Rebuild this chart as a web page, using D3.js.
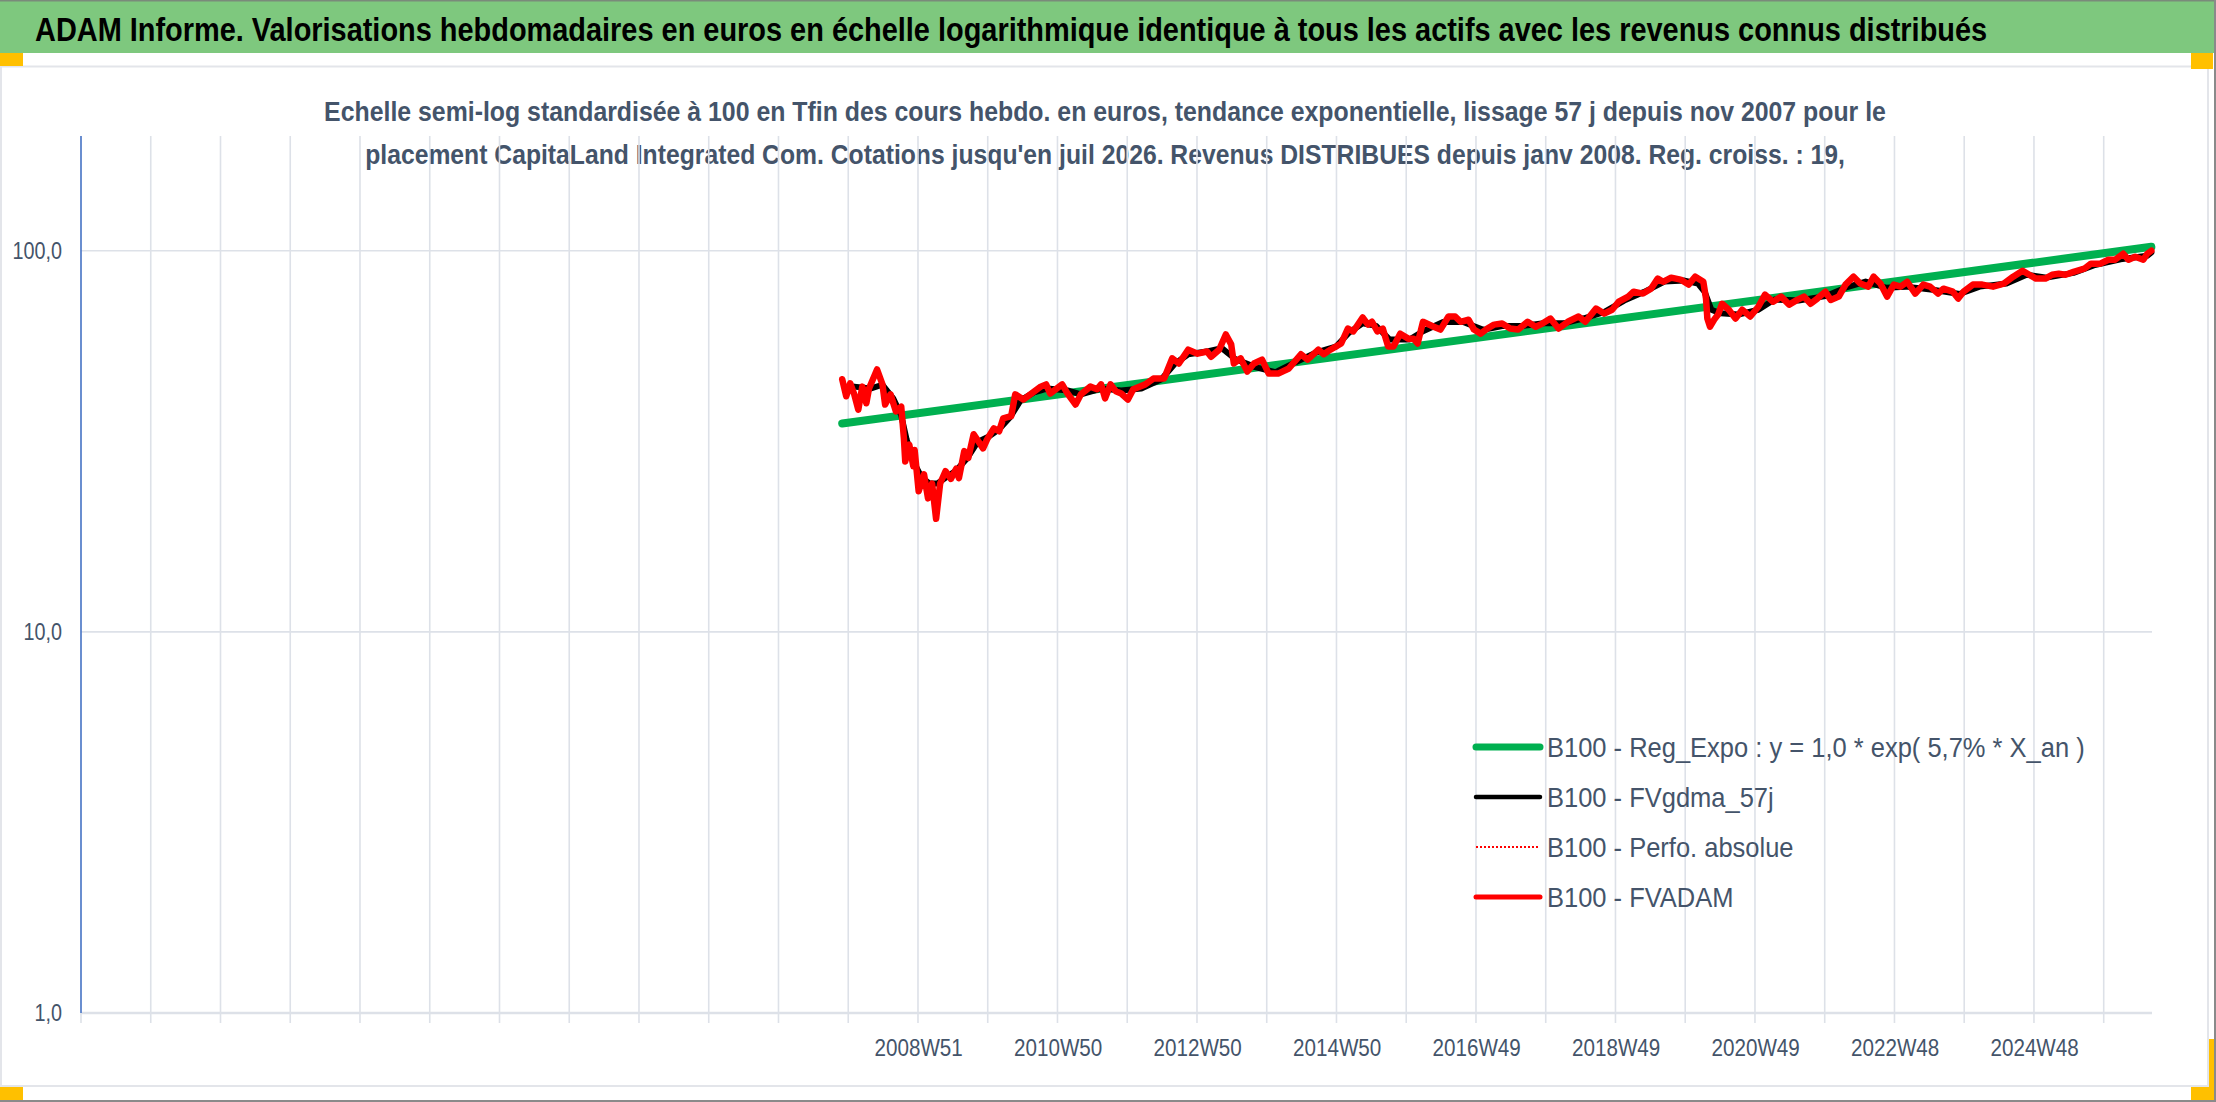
<!DOCTYPE html>
<html>
<head>
<meta charset="utf-8">
<script src="https://cdn.jsdelivr.net/npm/d3@7"></script>
<style>
  body { margin: 0; background: #fff; }
  svg { display: block; }
</style>
</head>
<body>
<div id="chart"></div>
<script>
  // Constants
  const WIDTH = 2216;
  const HEIGHT = 1102;
  const FONT = '"Liberation Sans Narrow", "Liberation Sans", Arial, sans-serif';

  // Texts
  const title =
    'ADAM Informe. Valorisations hebdomadaires en euros en échelle logarithmique identique à tous les actifs avec les revenus connus distribués';
  const subtitle = [
    'Echelle semi-log standardisée à 100 en Tfin des cours hebdo. en euros, tendance exponentielle, lissage 57 j depuis nov 2007 pour le',
    "placement CapitaLand Integrated Com. Cotations jusqu'en juil 2026. Revenus DISTRIBUES depuis janv 2008. Reg. croiss. : 19,",
  ];

  // Category axis: weekly categories, tick every 52 weeks, label every 104
  const nWeeks = 1544;
  const tickStep = 52;
  const labelWeeks = [624, 728, 832, 936, 1040, 1144, 1248, 1352, 1456];
  const labelTexts = ['2008W51', '2010W50', '2012W50', '2014W50', '2016W49', '2018W49', '2020W49', '2022W48', '2024W48'];

  // Value axis (log)
  const yDomain = [1, 200];
  const yTicks = [1, 10, 100];

  // Series: [week index, value]
  const regExpo = [[567, 35.2], [1543, 102.4]];

  const fvgdma57 = [
    [576, 44.0], [588, 43.5], [597, 44.5], [605, 41], [611, 37], [615, 32], [620, 28], [626, 25.5],
    [632, 24.5], [638, 24.5], [645, 25.5], [652, 26.5], [660, 28.5], [668, 31.5], [676, 32.5], [684, 34],
    [692, 36.5], [700, 40.5], [710, 42.5], [720, 43.5], [735, 43], [745, 42], [760, 43.5], [775, 43],
    [790, 43.5], [805, 46], [815, 50.5], [825, 53.5], [840, 54.5], [850, 55.5], [860, 52], [875, 49.5],
    [890, 48], [905, 51], [920, 54], [935, 56], [945, 61], [955, 64.5], [965, 63.5], [975, 58.5],
    [990, 58.5], [1000, 61.5], [1015, 65], [1030, 65], [1045, 62], [1060, 63.5], [1075, 63.5], [1090, 64.5],
    [1105, 64.5], [1120, 66.5], [1135, 69], [1150, 74], [1165, 78], [1180, 83], [1195, 83.5], [1205, 82],
    [1210, 78], [1215, 70], [1222, 68.5], [1235, 68], [1250, 70], [1262, 74.5], [1280, 74], [1300, 76],
    [1315, 80], [1330, 83], [1345, 80], [1360, 80.5], [1380, 79], [1400, 77], [1415, 80.5], [1435, 82],
    [1450, 86.5], [1465, 85], [1485, 87.5], [1500, 91.5], [1520, 95], [1540, 97], [1543, 99],
  ];

  const fvadam = [
    [567, 46.0], [570, 41.5], [573, 44.9], [576, 42.0], [579, 38.3], [582, 44.0], [585, 39.8], [587, 43.5],
    [593, 48.8], [597, 44.6], [599, 39.5], [603, 42.0], [607, 37.9], [611, 39.0], [613, 32.2], [614, 28.0],
    [617, 31.0], [620, 27.2], [621, 30.0], [624, 23.4], [628, 25.9], [631, 22.4], [634, 24.5], [637, 19.8],
    [640, 24.5], [644, 26.4], [648, 25.2], [652, 26.8], [654, 25.3], [658, 29.8], [661, 28.6], [665, 33.0],
    [672, 30.3], [675, 32.0], [680, 34.2], [684, 33.6], [687, 36.3], [693, 36.8], [696, 42.0], [702, 40.7],
    [708, 42.2], [715, 44.0], [719, 44.6], [722, 42.2], [731, 44.6], [735, 42.2], [741, 39.5], [745, 42.0],
    [752, 44.0], [757, 43.3], [760, 44.6], [763, 41.0], [767, 44.6], [771, 42.8], [775, 42.2], [780, 40.7],
    [784, 43.3], [793, 44.6], [799, 46.2], [807, 46.2], [813, 52.2], [818, 50.6], [825, 55.0], [832, 53.7],
    [839, 54.4], [842, 52.7], [848, 55.0], [853, 60.3], [857, 56.8], [859, 50.6], [864, 52.2], [869, 48.2],
    [874, 50.6], [880, 51.8], [885, 47.6], [892, 47.6], [900, 49.1], [909, 53.5], [914, 51.8], [922, 55.0],
    [926, 53.5], [931, 55.0], [939, 57.1], [944, 62.5], [948, 61.4], [955, 66.8], [959, 64.0], [962, 65.1],
    [966, 61.4], [970, 62.5], [974, 56.1], [978, 56.1], [983, 60.6], [989, 58.8], [993, 58.8], [996, 57.1],
    [1000, 65.1], [1008, 63.2], [1013, 62.1], [1019, 67.2], [1024, 67.2], [1028, 65.1], [1034, 65.9], [1038, 62.1],
    [1043, 60.6], [1048, 62.5], [1053, 64.0], [1059, 64.4], [1065, 62.5], [1071, 62.1], [1078, 65.1], [1084, 63.2],
    [1089, 64.4], [1095, 66.4], [1101, 62.5], [1108, 65.1], [1116, 67.2], [1121, 65.1], [1129, 70.5], [1135, 68.4],
    [1141, 70.0], [1146, 73.5], [1153, 75.8], [1157, 78.1], [1164, 77.2], [1170, 79.5], [1175, 84.5], [1179, 82.9],
    [1185, 85.0], [1192, 84.0], [1198, 81.5], [1203, 85.5], [1209, 82.9], [1211, 74.9], [1212, 66.4], [1214, 63.2],
    [1217, 65.9], [1220, 68.0], [1223, 72.6], [1228, 70.0], [1233, 66.4], [1238, 70.0], [1244, 67.2], [1250, 71.3],
    [1255, 76.7], [1261, 73.5], [1267, 75.8], [1273, 72.2], [1279, 74.3], [1284, 75.8], [1289, 72.6], [1294, 74.9],
    [1300, 78.1], [1304, 74.3], [1310, 75.8], [1315, 81.5], [1321, 85.5], [1326, 82.0], [1332, 80.5], [1336, 85.5],
    [1341, 82.0], [1346, 75.8], [1351, 81.5], [1356, 80.5], [1361, 82.9], [1367, 77.2], [1373, 81.5], [1378, 80.5],
    [1384, 77.2], [1388, 79.5], [1395, 78.1], [1399, 74.9], [1403, 78.1], [1410, 81.5], [1417, 81.5], [1425, 80.5],
    [1433, 82.0], [1440, 85.5], [1447, 88.6], [1452, 86.5], [1457, 84.5], [1464, 84.5], [1469, 86.5], [1474, 87.0],
    [1479, 86.5], [1485, 88.0], [1493, 89.7], [1498, 92.5], [1505, 92.5], [1511, 94.7], [1516, 94.7], [1522, 98.2],
    [1526, 94.7], [1531, 96.4], [1537, 94.7], [1540, 98.2], [1543, 100.0],
  ];

  const seriesNames = [
    'B100 - Reg_Expo : y = 1,0 * exp( 5,7% *  X_an )',
    'B100 - FVgdma_57j',
    'B100 - Perfo. absolue',
    'B100 - FVADAM',
  ];

  // Styles
  const series = [
    { name: seriesNames[0], data: regExpo, color: '#00b050', width: 8, legendWidth: 7, dash: null },
    { name: seriesNames[1], data: fvgdma57, color: '#000000', width: 6, legendWidth: 4.5, dash: null },
    { name: seriesNames[2], data: fvadam, color: '#ff0000', width: 2, legendWidth: 2, dash: '2,2' },
    { name: seriesNames[3], data: fvadam, color: '#ff0000', width: 6.5, legendWidth: 5, dash: null },
  ];

  const margin = { top: 136, right: WIDTH - 2152, bottom: HEIGHT - 1013, left: 81 };
  const textColor = '#44546a';
  const gridColor = '#dde1e8';

  const svg = d3
    .select('#chart')
    .append('svg')
    .attr('width', WIDTH)
    .attr('height', HEIGHT)
    .attr('viewBox', `0 0 ${WIDTH} ${HEIGHT}`)
    .style('font-family', FONT);

  // squeeze texts horizontally around their anchor (source uses a narrow font)
  function squeeze(sel, xFn, yFn, k) {
    sel.each(function (d, i) {
      const kk = typeof k === 'function' ? k.call(this, d, i) : k;
      d3.select(this)
        .attr('x', 0)
        .attr('y', 0)
        .attr('transform', `translate(${xFn(d, i)},${yFn(d, i)}) scale(${kk},1)`);
    });
  }

  // Frame
  svg.append('rect').attr('width', WIDTH).attr('height', HEIGHT).attr('fill', '#fff');
  svg.append('rect').attr('x', 0).attr('y', 0).attr('width', WIDTH).attr('height', 53).attr('fill', '#7ec87e');
  svg.append('rect').attr('x', 0).attr('y', 0).attr('width', WIDTH).attr('height', 1.5).attr('fill', '#7a8a7a');
  svg
    .append('rect')
    .attr('x', 1)
    .attr('y', 66.5)
    .attr('width', 2207)
    .attr('height', 1019.5)
    .attr('fill', '#fff')
    .attr('stroke', '#e3e5ea')
    .attr('stroke-width', 2);
  const gold = '#ffc000';
  svg.append('rect').attr('x', 0).attr('y', 53).attr('width', 23).attr('height', 13).attr('fill', gold);
  svg.append('rect').attr('x', 2191).attr('y', 53).attr('width', 22).attr('height', 16).attr('fill', gold);
  svg.append('rect').attr('x', 0).attr('y', 1087).attr('width', 23).attr('height', 13).attr('fill', gold);
  svg.append('rect').attr('x', 2191).attr('y', 1087).attr('width', 22).attr('height', 13).attr('fill', gold);
  svg.append('rect').attr('x', 2209).attr('y', 1039).attr('width', 5).attr('height', 61).attr('fill', gold);
  svg.append('rect').attr('x', 2214).attr('y', 0).attr('width', 2).attr('height', HEIGHT).attr('fill', '#8a8a8a');
  svg.append('rect').attr('x', 0).attr('y', 1100).attr('width', WIDTH).attr('height', 2).attr('fill', '#8a8a8a');

  // Title
  const titleText = svg
    .append('text')
    .attr('font-size', 33)
    .attr('font-weight', 'bold')
    .attr('fill', '#000')
    .text(title);
  const kTitle = 1953 / titleText.node().getComputedTextLength();
  squeeze(titleText, () => 35, () => 41, kTitle);

  const subWidths = [1562, 1480];
  const subTexts = svg
    .append('g')
    .selectAll('text')
    .data(subtitle)
    .join('text')
    .attr('text-anchor', 'middle')
    .attr('font-size', 28)
    .attr('font-weight', 'bold')
    .attr('fill', textColor)
    .text((d) => d);
  squeeze(
    subTexts,
    () => 1105,
    (d, i) => 121 + i * 43,
    function (d, i) {
      return subWidths[i] / this.getComputedTextLength();
    }
  );

  // Scales
  const x = d3.scaleLinear().domain([0, nWeeks]).range([margin.left, WIDTH - margin.right]);
  const y = d3.scaleLog().domain(yDomain).range([HEIGHT - margin.bottom, margin.top]);

  // Grid
  const tickWeeks = d3.range(tickStep, nWeeks, tickStep);
  svg
    .append('g')
    .selectAll('line')
    .data(tickWeeks)
    .join('line')
    .attr('x1', (d) => x(d))
    .attr('x2', (d) => x(d))
    .attr('y1', margin.top)
    .attr('y2', HEIGHT - margin.bottom + 10)
    .attr('stroke', gridColor)
    .attr('stroke-width', 1.6);
  svg
    .append('line')
    .attr('x1', x(0))
    .attr('x2', x(0))
    .attr('y1', HEIGHT - margin.bottom)
    .attr('y2', HEIGHT - margin.bottom + 10)
    .attr('stroke', gridColor)
    .attr('stroke-width', 1.6);
  svg
    .append('g')
    .selectAll('line')
    .data(yTicks)
    .join('line')
    .attr('x1', x(0))
    .attr('x2', x(nWeeks))
    .attr('y1', (d) => y(d))
    .attr('y2', (d) => y(d))
    .attr('stroke', gridColor)
    .attr('stroke-width', (d) => (d === 1 ? 2.4 : 1.6));

  // Y axis
  svg
    .append('line')
    .attr('x1', x(0))
    .attr('x2', x(0))
    .attr('y1', margin.top)
    .attr('y2', HEIGHT - margin.bottom)
    .attr('stroke', '#4472c4')
    .attr('stroke-width', 1.6);

  const kLabel = 0.86;
  const yLabels = svg
    .append('g')
    .selectAll('text')
    .data(yTicks)
    .join('text')
    .attr('dy', '0.36em')
    .attr('text-anchor', 'end')
    .attr('font-size', 23)
    .attr('fill', textColor)
    .text((d) => d3.format('.1f')(d).replace('.', ','));
  squeeze(yLabels, () => 62, (d) => y(d), kLabel);

  // X labels
  const xLabels = svg
    .append('g')
    .selectAll('text')
    .data(labelWeeks)
    .join('text')
    .attr('text-anchor', 'middle')
    .attr('font-size', 24)
    .attr('fill', textColor)
    .text((d, i) => labelTexts[i]);
  squeeze(xLabels, (d) => x(d + 0.5), () => 1056, kLabel);

  // Lines
  const line = d3
    .line()
    .x((d) => x(d[0] + 0.5))
    .y((d) => y(d[1]));

  svg
    .append('g')
    .selectAll('path')
    .data(series)
    .join('path')
    .attr('d', (d) => line(d.data))
    .attr('fill', 'none')
    .attr('stroke', (d) => d.color)
    .attr('stroke-width', (d) => d.width)
    .attr('stroke-dasharray', (d) => d.dash)
    .attr('stroke-linejoin', 'round')
    .attr('stroke-linecap', 'round');

  // Legend
  const legend = svg
    .append('g')
    .selectAll('g')
    .data(series)
    .join('g')
    .attr('transform', (d, i) => `translate(1476, ${747 + i * 50})`);
  legend
    .append('line')
    .attr('x1', 0)
    .attr('x2', 64)
    .attr('stroke', (d) => d.color)
    .attr('stroke-width', (d) => d.legendWidth)
    .attr('stroke-dasharray', (d) => d.dash)
    .attr('stroke-linecap', (d) => (d.dash ? 'butt' : 'round'));
  const legendTexts = legend
    .append('text')
    .attr('dy', '0.36em')
    .attr('font-size', 28)
    .attr('fill', textColor)
    .text((d) => d.name);
  const kLegend = 538 / legendTexts.node().getComputedTextLength();
  squeeze(legendTexts, () => 71, () => 0, kLegend);
</script>
</body>
</html>
